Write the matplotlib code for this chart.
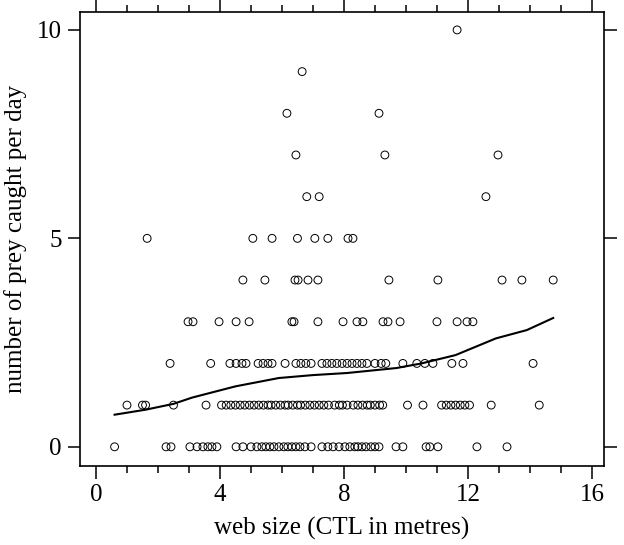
import numpy as np
import matplotlib
matplotlib.use("Agg")
import matplotlib.pyplot as plt

# web size (CTL, metres) for each prey count
x0 = [0.6, 2.26, 2.42, 3.03, 3.26, 3.45, 3.61, 3.74, 3.9, 4.52, 4.74, 5.0, 5.19,
      5.35, 5.48, 5.61, 5.74, 5.9, 6.06, 6.19, 6.32, 6.45, 6.58, 6.74, 6.94,
      7.29, 7.48, 7.65, 7.84, 8.03, 8.19, 8.35, 8.45, 8.58, 8.71, 8.87, 9.0, 9.13,
      9.68, 9.9, 10.65, 10.77, 11.03, 12.29, 13.26]
x1 = [1.0, 1.5, 1.6, 2.5, 3.55, 4.05, 4.2, 4.35, 4.5, 4.65, 4.8, 4.95, 5.1, 5.25,
      5.4, 5.55, 5.65, 5.8, 5.95, 6.1, 6.2, 6.35, 6.5, 6.6, 6.75, 6.9, 7.05, 7.2,
      7.35, 7.5, 7.7, 7.85, 7.95, 8.1, 8.3, 8.45, 8.6, 8.75, 8.85, 9.0, 9.15, 9.25,
      10.05, 10.55, 11.15, 11.3, 11.45, 11.6, 11.75, 11.9, 12.05, 12.75, 14.3]
x2 = [2.39, 3.7, 4.32, 4.52, 4.71, 4.84, 5.23, 5.39, 5.55, 5.68, 6.1, 6.45, 6.61,
      6.77, 6.94, 7.29, 7.45, 7.61, 7.77, 7.94, 8.1, 8.26, 8.42, 8.58, 8.74,
      9.0, 9.2, 9.35, 9.9, 10.35, 10.61, 10.87, 11.48, 11.84, 14.1]
x3 = [2.97, 3.13, 3.97, 4.52, 4.94, 6.32, 6.39, 7.16, 7.97, 8.42, 8.61, 9.26,
      9.42, 9.81, 11.0, 11.65, 11.97, 12.16]
x4 = [4.74, 5.45, 6.42, 6.52, 6.84, 7.16, 9.45, 11.03, 13.1, 13.74, 14.75]
x5 = [1.65, 5.06, 5.68, 6.5, 7.06, 7.48, 8.13, 8.29]
x6 = [6.8, 7.2, 12.58]
x7 = [6.45, 9.32, 12.97]
x8 = [6.16, 9.13]
x9 = [6.65]
x10 = [11.65]

# smoothed trend line
trend_x = [0.6, 1.6, 2.5, 3.1, 4.5, 5.9, 7.0, 8.1, 9.7, 10.5, 11.6, 12.9, 13.9, 14.75]
trend_y = [0.77, 0.89, 1.03, 1.18, 1.45, 1.65, 1.72, 1.77, 1.89, 2.0, 2.2, 2.6, 2.8, 3.09]

rows = [x0, x1, x2, x3, x4, x5, x6, x7, x8, x9, x10]
xs = np.concatenate([np.array(r, float) for r in rows])
ys = np.concatenate([np.full(len(r), k) for k, r in enumerate(rows)])

plt.rcParams['font.family'] = ['Liberation Serif', 'DejaVu Serif']
plt.rcParams['font.size'] = 18

fig = plt.figure(figsize=(6.24, 5.45), dpi=100)
ax = fig.add_axes([0.128, 0.145, 0.840, 0.833])

ax.scatter(xs, ys, s=32, facecolors='none', edgecolors='black', linewidths=0.7)
ax.plot(trend_x, trend_y, color='black', lw=1.5)

ax.set_xlim(-0.52, 16.39)
ax.set_ylim(-0.46, 10.43)
ax.set_xticks([0, 4, 8, 12, 16])
ax.set_xticks(np.arange(0, 17), minor=True)
ax.set_yticks([0, 5, 10])

ax.tick_params(which='both', direction='out', top=True, right=True, width=1.1)
ax.tick_params(which='major', length=9, pad=4)
ax.tick_params(which='minor', length=5)
ax.tick_params(axis='y', which='minor', left=False, right=False)
for s in ax.spines.values():
    s.set_linewidth(1.2)

ax.set_xlabel('web size (CTL in metres)', labelpad=8)
ax.set_ylabel('number of prey caught per day', labelpad=7)

fig.savefig('out.png', dpi=100)
